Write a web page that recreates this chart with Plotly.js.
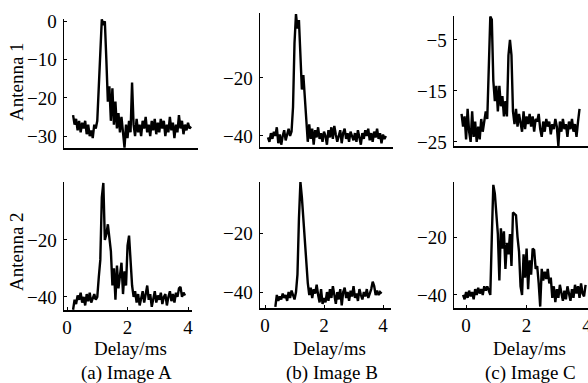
<!DOCTYPE html>
<html>
<head>
<meta charset="utf-8">
<script src="https://cdn.plot.ly/plotly-3.0.1.min.js"></script>
<style>html,body{margin:0;padding:0;background:#fff}#chart{width:588px;height:383px}</style>
</head>
<body>
<div id="chart"></div>
<script>
// Delay sampling (ms)
const step = 0.05;
const startA1 = 0.2, startB1 = 0.1, startC1 = -0.15;
const startA2 = 0.2, startB2 = 0.35, startC2 = -0.1;

// Antenna 1
const antenna1ImageA = [-24.5,-27,-25.5,-28.5,-26,-29,-26.5,-28,-26,-29.5,-27,-30,-28.5,-30.5,-27,-28,-26,-18,-8,0.5,-1,0,-10,-21,-17,-26,-17.5,-27,-21,-28,-24,-29,-25,-30,-33,-27,-30.5,-26,-29,-16,-27,-30,-25.5,-29,-27,-30,-26,-28,-25,-29,-27,-30,-26,-28.5,-25.5,-29.5,-26.5,-29,-25.5,-28,-26,-30,-27,-29,-25,-28.5,-26.5,-30.5,-27,-29,-24.5,-28,-26,-29.5,-27,-28.5,-26.5,-28,-27.5];
const antenna1ImageB = [-40.5,-42,-39,-41,-38.5,-40,-37,-42.5,-39.5,-43,-40,-38,-41.5,-39,-37.5,-40,-38.5,-30,-8,2,-3,0,-15,-24,-19,-27,-33,-42,-36,-41,-37.5,-43,-38,-40.5,-37,-41,-39,-42,-38.5,-40,-43,-38,-40.5,-37,-41,-36.5,-39.5,-42,-40,-38,-42.5,-39,-37.5,-41,-39,-42,-38.5,-40,-41.5,-39,-42,-38,-40.5,-43,-39,-41,-38,-40,-37.5,-41.5,-39,-42,-38.5,-40.5,-37.5,-41,-39,-42.5,-39.5,-41,-40];
const antenna1ImageC = [-19.5,-22,-20,-24.5,-18.5,-23,-25,-19,-24,-21,-25,-22,-24.5,-20.5,-23,-21,-19,-20.5,-8,-0.4,-1,-13,-17,-14,-19,-14,-18,-16,-20,-17,-20,-8,-5,-8,-19,-21.5,-18.5,-22,-19.5,-21,-23,-19,-22.5,-20,-21.5,-19.5,-22,-20,-23,-20.5,-21,-19.5,-22.5,-24,-21,-23,-20.5,-22,-21,-23.5,-21.5,-22.5,-20.5,-22,-25.8,-21,-23,-20.5,-22.5,-21.5,-24,-21,-22.5,-20.5,-23,-21.5,-24,-21,-18.5];

// Antenna 2
const antenna2ImageA = [-44.5,-41,-42.5,-39.5,-41,-38.5,-42,-40,-43,-39,-41.5,-38.5,-42,-40,-39,-41,-40,-33,-27,-5,0,-20,-18,-14.5,-20,-24,-36,-30,-41,-29,-37,-32,-28,-39,-31,-36,-22,-18.5,-30,-36,-40,-38,-42,-39,-43,-40,-38,-42,-39,-36,-41,-39,-43.5,-40,-38,-42,-39.5,-41,-38.5,-42.5,-40,-39,-43,-40,-38,-41.5,-39,-42,-38.5,-40,-37,-36.5,-40,-38.5,-39.5];
const antenna2ImageB = [-45,-41,-43,-41.5,-42.5,-40.5,-42,-41,-43,-40,-42,-39.5,-41,-42.5,-40,-34,-15,-2.7,-8,-16,-23,-31,-37,-41,-38.5,-42,-39,-40.5,-37.5,-41,-43.5,-39,-44,-42,-43.5,-40,-43,-39,-42,-38,-41.5,-44,-40,-42.5,-39,-44.5,-40,-38.5,-42,-40,-43,-39.5,-41.5,-38,-42,-40.5,-43,-39,-41,-42.5,-40,-41.5,-39,-42,-40.5,-39,-36.5,-38,-41,-39.5,-41,-40,-40.5];
const antenna2ImageC = [-40,-41.5,-39,-41,-38.5,-40.5,-39,-41.5,-38,-40,-37.5,-39.5,-38,-40,-37,-38.5,-37,-39,-40,-20,-2,-5,-12,-19,-35,-17,-24,-18,-31,-22,-26,-19,-30,-11.5,-12,-12.5,-20,-25,-37,-40,-26,-34,-24,-38,-28,-33,-24,-24.5,-31,-30,-36,-44,-31,-35,-32,-34.5,-31,-36,-34,-41,-37,-42.5,-38,-41,-36.5,-40,-42,-38.5,-41.5,-37,-40,-42,-38,-41,-36.5,-39.5,-37,-41,-36,-39.5,-40.5,-36.5];

// Tick labels
const yTicksA1 = [0, -10, -20, -30];
const yTicksB1 = [-20, -40];
const yTicksC1 = [-5, -15, -25];
const yTicksRow2 = [-20, -40];
const xTicks = [0, 2, 4];

const rowLabels = ["Antenna 1", "Antenna 2"];
const xLabel = "Delay/ms";
const captions = ["(a) Image A", "(b) Image B", "(c) Image C"];

const W = 588, H = 383;
const FONT = "Liberation Serif, Times New Roman, serif";
const FS = 19;

function tr(y, x0, xa, ya) {
  return {type: 'scatter', mode: 'lines', y: y, x0: x0, dx: step, xaxis: xa, yaxis: ya,
          line: {color: '#000', width: 2.4}, hoverinfo: 'skip', showlegend: false};
}
const data = [
  tr(antenna1ImageA, startA1, 'x', 'y'),
  tr(antenna1ImageB, startB1, 'x2', 'y2'),
  tr(antenna1ImageC, startC1, 'x3', 'y3'),
  tr(antenna2ImageA, startA2, 'x4', 'y4'),
  tr(antenna2ImageB, startB2, 'x5', 'y5'),
  tr(antenna2ImageC, startC2, 'x6', 'y6')
];

function xd(l, r) { return [l / W, r / W]; }
function yd(t, b) { return [1 - b / H, 1 - t / H]; }
function xax(dom, range, anchor, labels) {
  return {domain: dom, range: range, anchor: anchor, showgrid: false, zeroline: false,
    showline: true, linecolor: '#000', linewidth: 1.5, ticks: labels ? 'inside' : '', ticklen: 3, tickwidth: 1,
    tickcolor: '#000', tickvals: xTicks, showticklabels: labels, ticklabeloverflow: 'allow',
    tickfont: {family: FONT, size: FS, color: '#000'}};
}
function yax(dom, range, anchor, tv) {
  return {domain: dom, range: range, anchor: anchor, showgrid: false, zeroline: false,
    showline: true, linecolor: '#000', linewidth: 1.5, ticks: 'inside', ticklen: 3, tickwidth: 1,
    tickcolor: '#000', tickvals: tv, ticklabelstandoff: 2, ticklabeloverflow: 'allow',
    tickfont: {family: FONT, size: FS, color: '#000'}};
}

const layout = {
  width: W, height: H, margin: {l: 0, r: 0, t: 0, b: 0},
  paper_bgcolor: '#fff', plot_bgcolor: 'rgba(0,0,0,0)', showlegend: false,
  xaxis: xax(xd(64, 198), [-0.1, 4.33], 'y', false),
  yaxis: yax(yd(19, 148), [-33.1, 0.6], 'x', yTicksA1),
  xaxis2: xax(xd(260, 393), [-0.17, 4.34], 'y2', false),
  yaxis2: yax(yd(13, 147), [-43.8, 2.4], 'x2', yTicksB1),
  xaxis3: xax(xd(454, 588), [-0.4, 4.03], 'y3', false),
  yaxis3: yax(yd(16, 146), [-25.8, -0.3], 'x3', yTicksC1),
  xaxis4: xax(xd(64, 192), [-0.1, 4.13], 'y4', true),
  yaxis4: yax(yd(182, 310), [-44.6, 0.35], 'x4', yTicksRow2),
  xaxis5: xax(xd(260, 391), [-0.17, 4.27], 'y5', true),
  yaxis5: yax(yd(182, 308), [-45.4, -2.7], 'x5', yTicksRow2),
  xaxis6: xax(xd(454, 588), [-0.4, 4.03], 'y6', true),
  yaxis6: yax(yd(182, 308), [-44.5, -1.0], 'x6', yTicksRow2),
  annotations: []
};
const tf = {family: FONT, size: FS, color: '#000'};
function ann(text, px, py, rot) {
  return {text: text, xref: 'paper', yref: 'paper', x: px / W, y: 1 - py / H,
          xanchor: 'center', yanchor: 'middle', showarrow: false, textangle: rot || 0, font: tf};
}
layout.annotations.push(ann(rowLabels[0], 17, 82, -90));
layout.annotations.push(ann(rowLabels[1], 17, 252, -90));
const xc = [130, 329, 529];
const cc = [126, 332, 530];
for (let i = 0; i < 3; i++) {
  layout.annotations.push(ann(xLabel, xc[i], 348));
  layout.annotations.push(ann(captions[i], cc[i], 373));
}
Plotly.newPlot('chart', data, layout, {staticPlot: true});
</script>
</body>
</html>
